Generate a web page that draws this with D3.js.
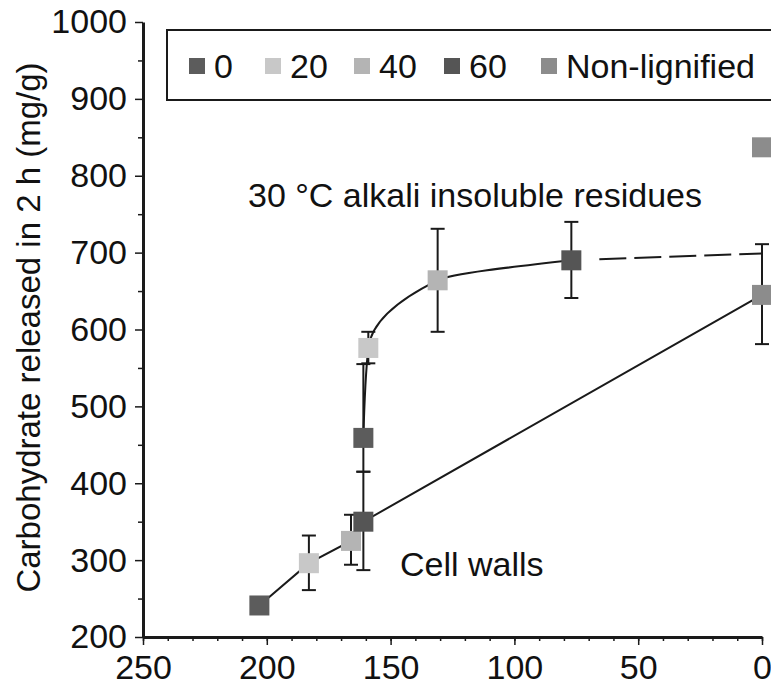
<!DOCTYPE html>
<html>
<head>
<meta charset="utf-8">
<script src="https://cdn.jsdelivr.net/npm/d3@7"></script>
<style>
  body { margin: 0; background: #fff; }
  svg text { font-family: "Liberation Sans", Arial, sans-serif; fill: #111; }
</style>
</head>
<body>
<div id="chart"></div>
<script>
// groups shown in the legend
const groups = ["0", "20", "40", "60", "Non-lignified"];

// cell walls series
const wallX = [203, 183, 166, 161, 0];
const wallY = [241, 296, 325, 350, 645];
const wallLo = [null, 261, 294, 287, 581];
const wallHi = [null, 332, 359, 415, 711];
const wallGroup = ["0", "20", "40", "60", "Non-lignified"];

// 30 C alkali insoluble residues
const resX = [161, 159, 131, 77];
const resY = [459, 576, 664, 690];
const resLo = [415, 556, 597, 641];
const resHi = [555, 597, 731, 740];
const resGroup = ["0", "20", "40", "60"];

// dashed extension and the non-lignified residue
const dashX = [77, 0];
const dashY = [690, 699];
const nonLigX = [0];
const nonLigY = [837];

const xTicks = [250, 200, 150, 100, 50, 0];
const yTicks = [200, 300, 400, 500, 600, 700, 800, 900, 1000];

const width = 771, height = 693;
const svg = d3.select('#chart').append('svg')
    .attr('width', width)
    .attr('height', height);

const x = d3.scaleLinear().domain([250, 0]).range([143, 762]);
const y = d3.scaleLinear().domain([200, 1000]).range([637, 22]);

const fill = d3.scaleOrdinal()
    .domain(groups)
    .range(["#5c5c5c", "#c8c8c8", "#b4b4b4", "#555555", "#8c8c8c"]);

const ink = "#1a1a1a";
const fontSize = 34;

// axes
const xMinor = svg.append('g')
    .attr('transform', `translate(0, ${y(200)})`)
    .call(d3.axisBottom(x).tickValues(d3.range(0, 251, 10)).tickSize(4).tickSizeOuter(0).tickFormat(''));
xMinor.select('.domain').remove();

const xAxis = svg.append('g')
    .attr('transform', `translate(0, ${y(200)})`)
    .call(d3.axisBottom(x).tickValues(xTicks).tickSize(8).tickPadding(10).tickSizeOuter(0).tickFormat(d3.format('d')));

const yMinor = svg.append('g')
    .attr('transform', `translate(${x(250)}, 0)`)
    .call(d3.axisLeft(y).tickValues(d3.range(250, 1000, 100)).tickSize(5).tickSizeOuter(0).tickFormat(''));
yMinor.select('.domain').remove();

const yAxis = svg.append('g')
    .attr('transform', `translate(${x(250)}, 0)`)
    .call(d3.axisLeft(y).tickValues(yTicks).tickSize(8).tickPadding(8).tickSizeOuter(0).tickFormat(d3.format('d')));

svg.selectAll('.domain').attr('stroke', ink).attr('stroke-width', 3);
svg.selectAll('.tick line').attr('stroke', ink).attr('stroke-width', 1.5);
svg.selectAll('.tick text')
    .attr('font-size', fontSize)
    .attr('font-family', '"Liberation Sans", Arial, sans-serif')
    .attr('fill', '#111');

// y axis title
svg.append('text')
    .attr('transform', `translate(40, ${(y(1000) + y(200)) / 2 - 2}) rotate(-90)`)
    .attr('text-anchor', 'middle')
    .attr('font-size', 33)
    .text('Carbohydrate released in 2 h (mg/g)');

// lines
const straight = d3.line().x((d, i) => x(wallX[i])).y((d, i) => y(wallY[i]));
svg.append('path')
    .attr('d', straight(wallX))
    .attr('fill', 'none')
    .attr('stroke', ink)
    .attr('stroke-width', 2);

const curve = d3.line()
    .x((d, i) => x(resX[i]))
    .y((d, i) => y(resY[i]))
    .curve(d3.curveMonotoneY);
svg.append('path')
    .attr('d', curve(resX))
    .attr('fill', 'none')
    .attr('stroke', ink)
    .attr('stroke-width', 2);

// dashes start a little clear of the marker, as in the original
const dashed = d3.line().x((d, i) => x(dashX[i])).y((d, i) => y(dashY[i]));
svg.append('path')
    .attr('d', dashed(dashX))
    .attr('fill', 'none')
    .attr('stroke', ink)
    .attr('stroke-width', 2)
    .attr('stroke-dasharray', '0,28,27,8,27,8,27,8,27,8,27,8,27,8,27,8');

// error bars
const wallPts = wallX.map((v, i) => ({ x: v, y: wallY[i], lo: wallLo[i], hi: wallHi[i], g: wallGroup[i] }));
const resPts = resX.map((v, i) => ({ x: v, y: resY[i], lo: resLo[i], hi: resHi[i], g: resGroup[i] }));
const nonLigPts = nonLigX.map((v, i) => ({ x: v, y: nonLigY[i], lo: null, hi: null, g: 'Non-lignified' }));
const allPts = wallPts.concat(resPts).concat(nonLigPts);

const errs = svg.append('g').selectAll('g')
    .data(allPts.filter(d => d.lo != null))
    .enter()
    .append('g')
    .attr('stroke', ink)
    .attr('stroke-width', 2);
errs.append('line')
    .attr('x1', d => x(d.x)).attr('x2', d => x(d.x))
    .attr('y1', d => y(d.lo)).attr('y2', d => y(d.hi));
errs.append('line')
    .attr('x1', d => x(d.x) - 7).attr('x2', d => x(d.x) + 7)
    .attr('y1', d => y(d.lo)).attr('y2', d => y(d.lo));
errs.append('line')
    .attr('x1', d => x(d.x) - 7).attr('x2', d => x(d.x) + 7)
    .attr('y1', d => y(d.hi)).attr('y2', d => y(d.hi));

// markers
const size = 20;
svg.append('g').selectAll('rect')
    .data(allPts)
    .enter()
    .append('rect')
    .attr('x', d => x(d.x) - size / 2)
    .attr('y', d => y(d.y) - size / 2)
    .attr('width', size)
    .attr('height', size)
    .attr('fill', d => fill(d.g));

// annotations
svg.append('text')
    .attr('x', 248).attr('y', 207)
    .attr('font-size', fontSize)
    .text('30 °C alkali insoluble residues');

svg.append('text')
    .attr('x', 400).attr('y', 576)
    .attr('font-size', fontSize)
    .text('Cell walls');

// legend
svg.append('rect')
    .attr('x', 167).attr('y', 30)
    .attr('width', 640).attr('height', 70)
    .attr('fill', 'none')
    .attr('stroke', ink)
    .attr('stroke-width', 2);

const legendX = [197, 273, 362, 452, 549];
const legend = svg.append('g').selectAll('g')
    .data(groups)
    .enter()
    .append('g')
    .attr('transform', (d, i) => `translate(${legendX[i]}, 66)`);
legend.append('rect')
    .attr('x', -8).attr('y', -8)
    .attr('width', 16).attr('height', 16)
    .attr('fill', d => fill(d));
legend.append('text')
    .attr('x', 17).attr('y', 12)
    .attr('font-size', fontSize)
    .text(d => d);
</script>
</body>
</html>
